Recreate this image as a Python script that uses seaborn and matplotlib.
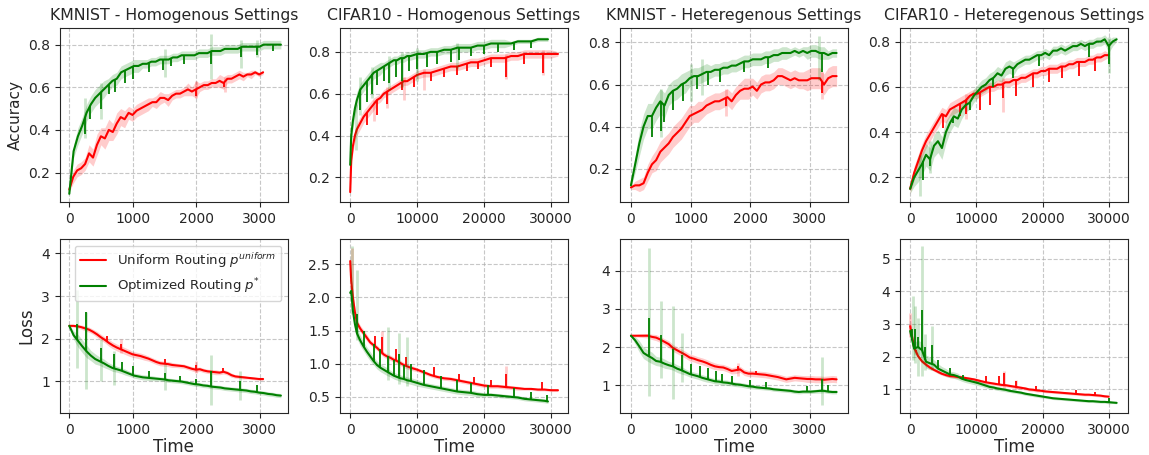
import numpy as np
import pandas as pd
import seaborn as sns
import matplotlib
matplotlib.use('Agg')
import matplotlib.pyplot as plt

sns.set_style("ticks")
plt.rcParams['font.family'] = ['DejaVu Sans']

TITLES = ['KMNIST - Homogenous Settings', 'CIFAR10 - Homogenous Settings',
          'KMNIST - Heteregenous Settings', 'CIFAR10 - Heteregenous Settings']
LABEL_U = 'Uniform Routing $p^{uniform}$'
LABEL_O = 'Optimized Routing $p^{*}$'

# time grids
T_CIFAR_HOMO_U = [0, 150, 400, 700, 1000, 1500, 2000, 2500, 3000, 3500, 4000, 4500, 5000, 5500, 6000,
                  6500, 7000, 7500, 8000, 8500, 9000, 10000, 11000, 12000, 13000, 14000, 15000, 16000,
                  17000, 18000, 19000, 20000, 21000, 22000, 23000, 24000, 25000, 26000, 27000, 28000,
                  29000, 30000, 31000]
T_CIFAR_HOMO_O = [0, 150, 400, 700, 1000, 1500, 2000, 2500, 3000, 3500, 4000, 4500, 5000, 5500, 6000,
                  6500, 7000, 7500, 8000, 8500, 9000, 10000, 11000, 12000, 13000, 14000, 15000, 16000,
                  17000, 18000, 19000, 20000, 21000, 22000, 23000, 24000, 25000, 26000, 27000, 28000,
                  29000, 29500]

# spikes: (times, tip values); band spikes: (times, low, high)

# ================= accuracy =================
# KMNIST homogeneous
kmh_acc_u = [0.12,0.18,0.21,0.22,0.24,0.29,0.27,0.33,0.37,0.36,0.40,0.39,0.43,0.46,0.45,0.48,0.47,0.49,0.50,0.51,
             0.52,0.53,0.53,0.55,0.55,0.54,0.56,0.57,0.57,0.58,0.59,0.58,0.59,0.60,0.61,0.61,0.62,0.62,0.63,0.62,
             0.64,0.64,0.65,0.66,0.65,0.66,0.66,0.67,0.66,0.67]
kmh_acc_u_sd = [0.01,0.03,0.03,0.03,0.03,0.04,0.04,0.05,0.04,0.05,0.05,0.04,0.05,0.04,0.04,0.03,0.03,0.03,0.03,0.03,
                0.03,0.02,0.03,0.03,0.02,0.03,0.02,0.02,0.02,0.02,0.03,0.02,0.04,0.02,0.02,0.02,0.02,0.02,0.03,0.03,
                0.02,0.02,0.02,0.02,0.02,0.01,0.02,0.01,0.01,0.01]
kmh_acc_u_spk = ([2000, 2430], [0.56, 0.60])
kmh_acc_u_bspk = ([2000, 2450], [0.55, 0.58], [0.63, 0.65])
kmh_acc_o = [0.10,0.30,0.37,0.42,0.48,0.52,0.55,0.57,0.59,0.61,0.63,0.64,0.67,0.68,0.69,0.70,0.70,0.71,0.71,0.72,
             0.72,0.73,0.73,0.73,0.74,0.74,0.75,0.75,0.75,0.75,0.76,0.76,0.76,0.77,0.77,0.77,0.78,0.78,0.78,0.78,
             0.79,0.79,0.79,0.79,0.79,0.80,0.80,0.80,0.80,0.80]
kmh_acc_o_sd = [0.01,0.03,0.04,0.04,0.04,0.04,0.04,0.04,0.04,0.03,0.03,0.03,0.03,0.03,0.03,0.03,0.03,0.02,0.02,0.02,
                0.02,0.02,0.02,0.02,0.02,0.02,0.02,0.02,0.02,0.02,0.02,0.02,0.02,0.02,0.02,0.02,0.02,0.02,0.02,0.02,
                0.02,0.02,0.02,0.02,0.02,0.02,0.02,0.02,0.02,0.02]
kmh_acc_o_spk = ([250, 330, 500, 620, 720, 880, 1000, 1250, 1480, 1600, 1800, 2230, 2700, 2960, 3200],
                 [0.38, 0.45, 0.50, 0.57, 0.58, 0.62, 0.64, 0.67, 0.68, 0.70, 0.71, 0.71, 0.74, 0.75, 0.77])
kmh_acc_o_bspk = ([250, 500, 1500, 2230, 2700, 2960],
                  [0.36, 0.45, 0.65, 0.64, 0.69, 0.74],
                  [0.55, 0.62, 0.78, 0.85, 0.82, 0.82])

# CIFAR10 homogeneous
c10h_acc_u = [0.13,0.28,0.35,0.40,0.43,0.46,0.49,0.51,0.53,0.55,0.57,0.58,0.60,0.61,0.62,0.63,0.64,0.65,0.66,0.66,
              0.67,0.69,0.70,0.70,0.71,0.72,0.73,0.73,0.74,0.75,0.75,0.76,0.77,0.77,0.77,0.78,0.78,0.79,0.79,0.79,
              0.79,0.79,0.79]
c10h_acc_u_sd = [0.01,0.03,0.03,0.03,0.03,0.03,0.03,0.03,0.03,0.03,0.02,0.02,0.02,0.02,0.02,0.02,0.02,0.02,0.02,0.02,
                 0.02,0.02,0.02,0.02,0.02,0.02,0.02,0.02,0.02,0.02,0.02,0.02,0.02,0.02,0.02,0.02,0.02,0.02,0.02,0.02,
                 0.02,0.02,0.01]
c10h_acc_u_spk = ([2500, 4000, 5500, 7800, 9500, 12000, 14000, 16000, 17500, 19000, 21000, 23300, 26000, 28700],
                  [0.45, 0.50, 0.55, 0.62, 0.63, 0.66, 0.68, 0.69, 0.71, 0.72, 0.73, 0.68, 0.74, 0.70])
c10h_acc_u_bspk = ([3500, 5500, 8000, 11000, 23300, 28700],
                   [0.47, 0.53, 0.57, 0.62, 0.67, 0.69],
                   [0.57, 0.63, 0.68, 0.72, 0.79, 0.81])
c10h_acc_o = [0.26,0.40,0.47,0.53,0.57,0.62,0.64,0.66,0.68,0.70,0.71,0.72,0.73,0.74,0.75,0.76,0.76,0.77,0.77,0.78,
              0.78,0.79,0.79,0.80,0.80,0.81,0.81,0.82,0.82,0.82,0.83,0.83,0.84,0.84,0.84,0.84,0.85,0.85,0.85,0.86,
              0.86,0.86]
c10h_acc_o_sd = [0.01,0.04,0.04,0.04,0.04,0.03,0.03,0.03,0.03,0.03,0.03,0.03,0.02,0.02,0.02,0.02,0.02,0.02,0.02,0.02,
                 0.02,0.02,0.02,0.02,0.02,0.02,0.02,0.02,0.02,0.02,0.02,0.02,0.02,0.02,0.02,0.01,0.01,0.01,0.01,0.01,
                 0.01,0.01]
c10h_acc_o_spk = ([1500, 2500, 3300, 4000, 5000, 5800, 6800, 7800, 8800, 10000, 11500, 13000, 15000, 16200, 18000,
                   20000, 22000, 24500, 27000],
                  [0.52, 0.56, 0.60, 0.64, 0.66, 0.65, 0.68, 0.66, 0.71, 0.72, 0.73, 0.74, 0.75, 0.76, 0.78,
                   0.79, 0.80, 0.81, 0.82])
c10h_acc_o_bspk = ([800, 1500, 3300, 5800, 7800, 10000, 16000],
                   [0.33, 0.50, 0.58, 0.62, 0.63, 0.66, 0.72],
                   [0.55, 0.68, 0.73, 0.78, 0.80, 0.82, 0.84])

# KMNIST heterogeneous
kmx_acc_u = [0.11,0.12,0.12,0.13,0.18,0.22,0.24,0.28,0.30,0.32,0.35,0.37,0.39,0.42,0.45,0.46,0.47,0.48,0.50,0.51,
             0.52,0.52,0.53,0.54,0.52,0.55,0.57,0.58,0.58,0.59,0.57,0.60,0.61,0.61,0.62,0.64,0.64,0.63,0.62,0.63,
             0.62,0.62,0.62,0.63,0.63,0.63,0.60,0.63,0.64,0.64]
kmx_acc_u_sd = [0.01,0.02,0.03,0.03,0.04,0.04,0.05,0.05,0.05,0.05,0.05,0.05,0.05,0.05,0.05,0.04,0.05,0.04,0.04,0.04,
                0.04,0.04,0.04,0.04,0.04,0.04,0.04,0.05,0.05,0.04,0.04,0.04,0.04,0.04,0.04,0.04,0.04,0.04,0.04,0.04,
                0.04,0.04,0.05,0.05,0.05,0.05,0.05,0.05,0.05,0.05]
kmx_acc_u_spk = ([1600, 3200], [0.50, 0.56])
kmx_acc_u_bspk = ([1600, 3200], [0.45, 0.53], [0.58, 0.66])
kmx_acc_o = [0.12,0.22,0.32,0.40,0.45,0.45,0.49,0.52,0.50,0.55,0.57,0.58,0.60,0.61,0.63,0.64,0.64,0.65,0.66,0.66,
             0.67,0.67,0.68,0.68,0.69,0.69,0.70,0.71,0.71,0.72,0.72,0.72,0.73,0.73,0.74,0.74,0.75,0.75,0.75,0.76,
             0.75,0.76,0.75,0.76,0.76,0.75,0.75,0.74,0.75,0.75]
kmx_acc_o_sd = [0.01,0.04,0.06,0.06,0.06,0.06,0.06,0.06,0.06,0.05,0.05,0.05,0.05,0.05,0.04,0.04,0.04,0.04,0.04,0.03,
                0.03,0.03,0.03,0.03,0.03,0.03,0.03,0.03,0.03,0.03,0.03,0.03,0.03,0.03,0.03,0.03,0.03,0.03,0.02,0.02,
                0.02,0.02,0.03,0.03,0.03,0.03,0.03,0.02,0.02,0.02]
kmx_acc_o_spk = ([360, 500, 560, 700, 880, 1100, 1300, 1500, 1900, 2300, 3200],
                 [0.35, 0.38, 0.42, 0.48, 0.52, 0.58, 0.60, 0.61, 0.66, 0.68, 0.66])
kmx_acc_o_bspk = ([500, 1000, 1200, 3150],
                  [0.35, 0.52, 0.55, 0.62],
                  [0.58, 0.70, 0.72, 0.83])

# CIFAR10 heterogeneous
c10x_acc_u = [0.15,0.22,0.27,0.32,0.36,0.39,0.42,0.45,0.48,0.47,0.50,0.51,0.52,0.53,0.54,0.56,0.57,0.57,0.58,0.59,
              0.60,0.60,0.61,0.61,0.62,0.62,0.63,0.63,0.64,0.64,0.65,0.66,0.66,0.67,0.67,0.68,0.68,0.68,0.69,0.69,
              0.70,0.70,0.71,0.71,0.71,0.72,0.72,0.73,0.73,0.74,0.74]
c10x_acc_u_sd = [0.02,0.03,0.03,0.03,0.03,0.03,0.03,0.03,0.03,0.03,0.03,0.03,0.03,0.03,0.03,0.02,0.02,0.02,0.02,0.02,
                 0.02,0.02,0.02,0.02,0.02,0.02,0.02,0.02,0.02,0.02,0.02,0.02,0.02,0.02,0.02,0.02,0.02,0.02,0.02,0.02,
                 0.02,0.02,0.02,0.02,0.02,0.02,0.02,0.02,0.02,0.02,0.01]
c10x_acc_u_spk = ([5000, 7500, 8500, 10500, 12000, 14000, 16000, 18500, 21000, 23000, 25500, 28000],
                  [0.42, 0.47, 0.48, 0.50, 0.52, 0.55, 0.56, 0.60, 0.62, 0.64, 0.65, 0.67])
c10x_acc_u_bspk = ([8500, 14000], [0.46, 0.49], [0.57, 0.64])
c10x_acc_o = [0.15,0.20,0.23,0.26,0.30,0.28,0.34,0.36,0.33,0.40,0.44,0.47,0.46,0.50,0.52,0.53,0.56,0.58,0.60,0.61,
              0.63,0.64,0.66,0.65,0.68,0.69,0.68,0.70,0.71,0.72,0.72,0.73,0.74,0.74,0.75,0.74,0.76,0.76,0.77,0.76,
              0.77,0.78,0.78,0.79,0.78,0.79,0.79,0.80,0.80,0.81,0.78,0.80,0.81]
c10x_acc_o_sd = [0.02,0.04,0.05,0.05,0.05,0.05,0.05,0.05,0.05,0.05,0.04,0.04,0.04,0.04,0.03,0.03,0.03,0.03,0.03,0.03,
                 0.03,0.03,0.03,0.03,0.03,0.03,0.03,0.02,0.02,0.02,0.02,0.02,0.02,0.02,0.02,0.02,0.02,0.02,0.02,0.02,
                 0.02,0.02,0.02,0.02,0.02,0.02,0.02,0.02,0.02,0.02,0.03,0.02,0.01]
c10x_acc_o_spk = ([2000, 3000, 6500, 9000, 12500, 15500, 19500, 27000, 30000],
                  [0.19, 0.25, 0.44, 0.50, 0.60, 0.64, 0.69, 0.73, 0.70])
c10x_acc_o_bspk = ([1500, 3000, 30000], [0.12, 0.22, 0.66], [0.30, 0.36, 0.82])

# ================= loss =================
kmh_loss_u = [2.30,2.30,2.29,2.27,2.24,2.21,2.16,2.10,2.03,1.97,1.90,1.84,1.79,1.75,1.71,1.67,1.63,1.61,1.59,1.56,
              1.53,1.49,1.45,1.42,1.41,1.40,1.38,1.37,1.36,1.35,1.32,1.29,1.27,1.28,1.25,1.23,1.22,1.21,1.20,1.22,
              1.19,1.14,1.11,1.10,1.09,1.08,1.07,1.06,1.05,1.05]
kmh_loss_u_sd = [0.02,0.03,0.04,0.05,0.06,0.06,0.06,0.07,0.07,0.07,0.08,0.08,0.08,0.08,0.08,0.08,0.07,0.07,0.07,0.07,
                 0.06,0.06,0.06,0.06,0.06,0.06,0.06,0.05,0.05,0.05,0.05,0.05,0.06,0.05,0.05,0.05,0.05,0.06,0.05,0.05,
                 0.05,0.05,0.04,0.04,0.04,0.03,0.03,0.03,0.03,0.03]
kmh_loss_u_spk = ([600, 820, 1500, 2000, 2420], [2.05, 1.88, 1.52, 1.38, 1.30])
kmh_loss_u_bspk = ([820, 2000], [1.66, 1.20], [1.98, 1.48])
kmh_loss_o = [2.30,2.08,1.95,1.82,1.70,1.60,1.52,1.47,1.42,1.36,1.31,1.28,1.25,1.21,1.17,1.13,1.11,1.09,1.08,1.07,
              1.06,1.05,1.04,1.02,1.01,1.00,0.99,0.97,0.95,0.93,0.92,0.90,0.89,0.87,0.86,0.85,0.83,0.82,0.81,0.80,
              0.79,0.78,0.76,0.75,0.73,0.72,0.70,0.69,0.67,0.66]
kmh_loss_o_sd = [0.02,0.10,0.15,0.15,0.15,0.12,0.12,0.10,0.10,0.08,0.08,0.07,0.07,0.07,0.06,0.06,0.06,0.06,0.06,0.06,
                 0.05,0.05,0.05,0.05,0.05,0.05,0.05,0.05,0.05,0.05,0.05,0.05,0.05,0.05,0.05,0.05,0.05,0.05,0.05,0.05,
                 0.05,0.05,0.05,0.05,0.05,0.05,0.05,0.05,0.05,0.05]
kmh_loss_o_spk = ([120, 260, 500, 700, 830, 1000, 1250, 1500, 1750, 2000, 2230, 2680, 2950],
                  [2.35, 2.62, 1.78, 1.63, 1.45, 1.35, 1.25, 1.20, 1.12, 1.05, 1.25, 1.00, 0.90])
kmh_loss_o_bspk = ([120, 260, 500, 700, 1500, 2230, 2680],
                   [1.30, 0.82, 1.00, 0.90, 0.80, 0.45, 0.55],
                   [3.15, 2.62, 2.00, 1.70, 1.40, 1.62, 1.25])

c10h_loss_u = [2.55,2.25,2.00,1.78,1.62,1.53,1.46,1.39,1.32,1.28,1.24,1.19,1.14,1.11,1.09,1.06,1.04,1.01,0.98,0.96,
               0.94,0.91,0.87,0.83,0.80,0.78,0.77,0.75,0.73,0.71,0.69,0.67,0.66,0.66,0.65,0.64,0.63,0.62,0.62,0.61,
               0.61,0.60,0.60]
c10h_loss_u_sd = [0.05,0.12,0.08,0.06,0.05,0.05,0.05,0.05,0.04,0.04,0.04,0.04,0.04,0.04,0.04,0.04,0.04,0.04,0.04,0.04,
                  0.04,0.03,0.03,0.03,0.03,0.03,0.03,0.03,0.03,0.03,0.03,0.03,0.03,0.03,0.03,0.03,0.03,0.02,0.02,0.02,
                  0.02,0.02,0.02]
c10h_loss_u_spk = ([3700, 4700, 6800, 8300, 12500, 16300, 18500, 21000, 23300, 28600],
                   [1.42, 1.40, 1.22, 1.10, 0.95, 0.85, 0.80, 0.76, 0.85, 0.72])
c10h_loss_u_bspk = ([300, 4700, 23300], [2.00, 1.15, 0.63], [2.75, 1.50, 0.97])
c10h_loss_o = [2.07,2.10,1.80,1.60,1.46,1.35,1.26,1.18,1.11,1.04,0.98,0.94,0.91,0.88,0.85,0.82,0.80,0.78,0.77,0.75,
               0.74,0.71,0.68,0.66,0.64,0.62,0.60,0.58,0.57,0.56,0.54,0.53,0.53,0.52,0.51,0.50,0.49,0.47,0.46,0.45,
               0.44,0.43]
c10h_loss_o_sd = [0.02,0.10,0.10,0.10,0.08,0.08,0.07,0.07,0.07,0.06,0.06,0.06,0.06,0.06,0.05,0.05,0.05,0.05,0.05,0.05,
                  0.05,0.05,0.04,0.04,0.04,0.04,0.04,0.04,0.04,0.04,0.04,0.03,0.03,0.03,0.03,0.03,0.03,0.03,0.03,0.03,
                  0.03,0.03]
c10h_loss_o_spk = ([1000, 2000, 3500, 4500, 5700, 6500, 7300, 8000, 9000, 11000, 13500, 16000, 18000, 20500, 24500,
                    27000, 29300],
                   [1.75, 1.50, 1.30, 1.22, 1.12, 1.05, 1.14, 0.98, 1.00, 0.91, 0.82, 0.75, 0.71, 0.68, 0.63,
                    0.58, 0.53])
c10h_loss_o_bspk = ([300, 1000, 5700, 7300, 8500], [1.75, 1.36, 0.76, 0.70, 0.66], [2.78, 2.42, 1.55, 1.46, 1.41])

kmx_loss_u = [2.30,2.30,2.30,2.30,2.30,2.27,2.25,2.20,2.14,2.08,1.98,1.92,1.86,1.80,1.73,1.70,1.66,1.63,1.59,1.54,
              1.50,1.48,1.47,1.43,1.38,1.40,1.42,1.34,1.31,1.31,1.30,1.29,1.28,1.26,1.24,1.22,1.19,1.16,1.18,1.20,
              1.19,1.18,1.17,1.17,1.16,1.16,1.15,1.16,1.17,1.16]
kmx_loss_u_sd = [0.02,0.03,0.04,0.05,0.06,0.07,0.08,0.08,0.08,0.09,0.09,0.09,0.09,0.09,0.09,0.09,0.09,0.09,0.09,0.09,
                 0.09,0.08,0.08,0.08,0.08,0.09,0.08,0.08,0.08,0.08,0.08,0.08,0.08,0.08,0.08,0.08,0.08,0.08,0.08,0.08,
                 0.08,0.08,0.09,0.09,0.09,0.09,0.09,0.09,0.09,0.09]
kmx_loss_u_spk = ([1800, 2100], [1.50, 1.38])
kmx_loss_u_bspk = ([1800], [1.25], [1.58])
kmx_loss_o = [2.30,2.18,2.02,1.85,1.78,1.72,1.64,1.62,1.57,1.53,1.50,1.44,1.40,1.35,1.30,1.27,1.24,1.20,1.17,1.14,
              1.11,1.10,1.08,1.07,1.05,1.03,1.02,1.00,0.98,0.97,0.95,0.94,0.93,0.92,0.90,0.89,0.88,0.87,0.86,0.84,
              0.83,0.84,0.84,0.84,0.85,0.86,0.86,0.84,0.83,0.83]
kmx_loss_o_sd = [0.02,0.10,0.15,0.15,0.15,0.15,0.12,0.12,0.12,0.10,0.10,0.10,0.10,0.08,0.08,0.08,0.08,0.08,0.08,0.07,
                 0.07,0.07,0.07,0.07,0.06,0.06,0.06,0.06,0.06,0.06,0.05,0.05,0.05,0.05,0.05,0.05,0.05,0.05,0.05,0.05,
                 0.05,0.05,0.05,0.05,0.05,0.06,0.05,0.05,0.05,0.05]
kmx_loss_o_spk = ([300, 500, 700, 850, 1000, 1150, 1300, 1420, 1520, 1700, 2000, 2270, 2950, 3200, 3300],
                  [2.77, 2.31, 1.94, 1.80, 1.55, 1.50, 1.45, 1.38, 1.30, 1.25, 1.15, 1.08, 0.98, 1.16, 1.00])
kmx_loss_o_bspk = ([300, 500, 700, 850, 3200],
                   [0.72, 1.20, 0.65, 1.10, 0.48],
                   [4.60, 3.20, 3.08, 2.37, 1.75])

c10x_loss_u = [2.94,2.28,2.02,1.86,1.76,1.67,1.60,1.54,1.48,1.44,1.41,1.40,1.38,1.37,1.35,1.33,1.31,1.28,1.25,1.22,
               1.20,1.18,1.16,1.14,1.13,1.11,1.09,1.07,1.05,1.03,1.00,0.99,0.97,0.96,0.94,0.93,0.92,0.91,0.90,0.89,
               0.88,0.87,0.86,0.85,0.84,0.84,0.83,0.82,0.81,0.79,0.78]
c10x_loss_u_sd = [0.25,0.12,0.08,0.06,0.06,0.05,0.05,0.05,0.05,0.05,0.05,0.05,0.05,0.05,0.05,0.05,0.05,0.05,0.05,0.05,
                  0.05,0.05,0.05,0.05,0.05,0.05,0.05,0.05,0.05,0.05,0.05,0.05,0.05,0.04,0.04,0.04,0.04,0.04,0.04,0.04,
                  0.04,0.04,0.04,0.04,0.04,0.04,0.04,0.04,0.04,0.04,0.03]
c10x_loss_u_spk = ([900, 11500, 13500, 14200, 16000, 19000, 25000, 28000],
                   [2.20, 1.40, 1.40, 1.50, 1.25, 1.12, 0.98, 0.92])
c10x_loss_u_bspk = ([0, 14200, 16000], [2.60, 1.05, 1.00], [3.35, 1.55, 1.30])
c10x_loss_o = [2.79,2.25,2.30,2.20,1.85,1.80,1.76,1.64,1.58,1.52,1.46,1.44,1.40,1.33,1.29,1.26,1.23,1.20,1.16,1.12,
               1.08,1.06,1.03,1.01,0.99,0.96,0.94,0.92,0.90,0.87,0.85,0.83,0.81,0.79,0.77,0.75,0.73,0.72,0.71,0.70,
               0.69,0.68,0.67,0.66,0.65,0.64,0.64,0.63,0.62,0.62,0.61,0.60,0.59]
c10x_loss_o_sd = [0.10,0.20,0.20,0.25,0.20,0.20,0.15,0.15,0.12,0.12,0.10,0.10,0.10,0.08,0.08,0.08,0.08,0.08,0.07,0.07,
                  0.07,0.06,0.06,0.06,0.06,0.05,0.05,0.05,0.05,0.05,0.05,0.05,0.05,0.05,0.04,0.04,0.04,0.04,0.04,0.04,
                  0.04,0.04,0.04,0.04,0.04,0.04,0.04,0.04,0.04,0.04,0.05,0.03,0.03]
c10x_loss_o_spk = ([300, 700, 1200, 1800, 2300, 3300, 4200, 6000, 8000, 30000],
                   [2.85, 2.85, 2.60, 3.42, 2.30, 2.35, 1.90, 1.65, 1.45, 0.75])
c10x_loss_o_bspk = ([500, 700, 1200, 1800, 2300, 3300],
                    [1.90, 1.80, 1.40, 1.40, 1.60, 1.60],
                    [3.85, 3.55, 3.20, 5.40, 2.70, 2.95])

# (time_u, time_o) per column
times = [
    (np.linspace(0, 3050, 50), np.linspace(0, 3330, 50)),
    (np.array(T_CIFAR_HOMO_U), np.array(T_CIFAR_HOMO_O)),
    (np.linspace(0, 3450, 50), np.linspace(0, 3450, 50)),
    (np.linspace(0, 30000, 51), np.linspace(0, 31200, 53)),
]
acc = [(kmh_acc_u, kmh_acc_u_sd, kmh_acc_u_spk, kmh_acc_u_bspk, kmh_acc_o, kmh_acc_o_sd, kmh_acc_o_spk, kmh_acc_o_bspk),
       (c10h_acc_u, c10h_acc_u_sd, c10h_acc_u_spk, c10h_acc_u_bspk, c10h_acc_o, c10h_acc_o_sd, c10h_acc_o_spk, c10h_acc_o_bspk),
       (kmx_acc_u, kmx_acc_u_sd, kmx_acc_u_spk, kmx_acc_u_bspk, kmx_acc_o, kmx_acc_o_sd, kmx_acc_o_spk, kmx_acc_o_bspk),
       (c10x_acc_u, c10x_acc_u_sd, c10x_acc_u_spk, c10x_acc_u_bspk, c10x_acc_o, c10x_acc_o_sd, c10x_acc_o_spk, c10x_acc_o_bspk)]
loss = [(kmh_loss_u, kmh_loss_u_sd, kmh_loss_u_spk, kmh_loss_u_bspk, kmh_loss_o, kmh_loss_o_sd, kmh_loss_o_spk, kmh_loss_o_bspk),
        (c10h_loss_u, c10h_loss_u_sd, c10h_loss_u_spk, c10h_loss_u_bspk, c10h_loss_o, c10h_loss_o_sd, c10h_loss_o_spk, c10h_loss_o_bspk),
        (kmx_loss_u, kmx_loss_u_sd, kmx_loss_u_spk, kmx_loss_u_bspk, kmx_loss_o, kmx_loss_o_sd, kmx_loss_o_spk, kmx_loss_o_bspk),
        (c10x_loss_u, c10x_loss_u_sd, c10x_loss_u_spk, c10x_loss_u_bspk, c10x_loss_o, c10x_loss_o_sd, c10x_loss_o_spk, c10x_loss_o_bspk)]

xlims = [(-150, 3440), (-1540, 32500), (-183, 3644), (-1505, 32965)]
ylims_acc = [(0.061, 0.877), (0.082, 0.913), (0.04, 0.868), (0.091, 0.859)]
ylims_loss = [(0.248, 4.336), (0.254, 2.88), (0.278, 4.82), (0.275, 5.6)]
xticks = [[0, 1000, 2000, 3000], [0, 10000, 20000, 30000]] * 2
yticks_loss = [[1, 2, 3, 4], [0.5, 1.0, 1.5, 2.0, 2.5], [1, 2, 3, 4], [1, 2, 3, 4, 5]]


def draw(ax, t, y, sd, spk, bspk, color, label=None):
    y = np.array(y)
    sd = np.array(sd)
    ax.fill_between(t, y - sd, y + sd, color=color, alpha=0.2, linewidth=0)
    ax.vlines(bspk[0], bspk[1], bspk[2], color=color, alpha=0.2, linewidth=2)
    df = pd.DataFrame({'t': t, 'v': y})
    sns.lineplot(data=df, x='t', y='v', ax=ax, color=color, linewidth=1.5, label=label, legend=False)
    # spikes start on the curve
    base = np.interp(spk[0], t, y)
    ax.vlines(spk[0], base, spk[1], color=color, linewidth=1.3)


fig, axes = plt.subplots(2, 4, figsize=(11.49, 4.55), dpi=100)
fig.subplots_adjust(left=0.052, right=0.982, top=0.938, bottom=0.092, wspace=0.228, hspace=0.213)

for j in range(4):
    tu, to = times[j]
    for row, data, ylims in ((0, acc, ylims_acc), (1, loss, ylims_loss)):
        ax = axes[row, j]
        yu, su, pu, bu, yo, so, po, bo = data[j]
        first = (row == 1 and j == 0)
        draw(ax, tu, yu, su, pu, bu, 'red', LABEL_U if first else None)
        draw(ax, to, yo, so, po, bo, 'green', LABEL_O if first else None)
        ax.set_xlim(*xlims[j])
        ax.set_ylim(*ylims[j])
        ax.set_xticks(xticks[j])
        ax.grid(True, linestyle='--', color='#b0b0b0', alpha=0.7, linewidth=0.8)
        ax.tick_params(labelsize=10)
        ax.set_xlabel('')
        ax.set_ylabel('')
        if row == 0:
            ax.set_yticks([0.2, 0.4, 0.6, 0.8])
            ax.set_title(TITLES[j], fontsize=11.3)
        else:
            ax.set_yticks(yticks_loss[j])
            ax.set_xlabel('Time', fontsize=12, labelpad=1)

axes[0, 0].set_ylabel('Accuracy', fontsize=11)
axes[1, 0].set_ylabel('Loss', fontsize=12)
axes[1, 0].legend(loc='upper right', fontsize=9.5)

fig.savefig('out.png', dpi=100)
